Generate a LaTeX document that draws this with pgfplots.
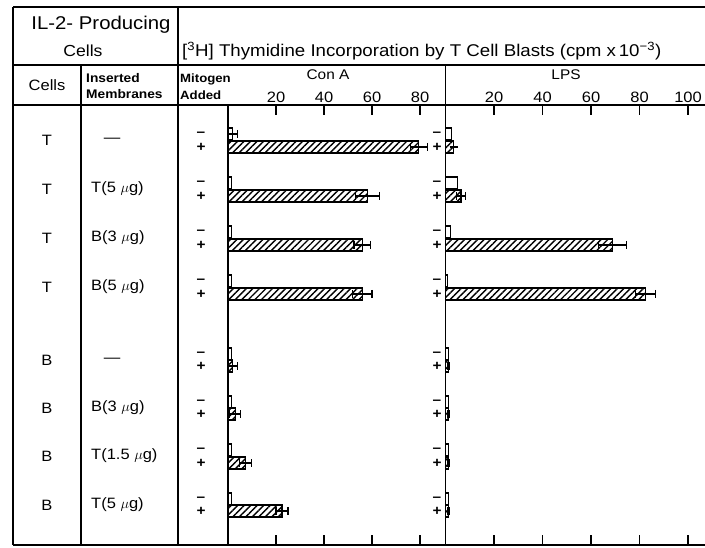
\documentclass[border=0pt]{standalone}
\usepackage{fontspec}
\setmainfont{Liberation Sans}[FakeStretch=1.1]
\usepackage{pgfplots}
\usepackage{pgfplotstable}
\pgfplotsset{compat=1.18}
\usetikzlibrary{patterns.meta}

% y = vertical position of the bar (row), x = value (cpm x 10^-3), e = error
\pgfplotstableread{
y x
-134 2.0
-183 1.4
-232 1.4
-281 1.4
-354 1.4
-402 1.4
-450 1.4
-499 1.4
}\conAminus
\pgfplotstableread{
y x e
-134 2.0 2.0
}\conAminusErr
\pgfplotstableread{
y x e
-147 79.5 3.5
-196 58.0 5.0
-245 56.0 3.5
-294 56.0 4.0
-366 2.0 1.8
-414 3.0 2.3
-463 7.2 2.5
-511 22.5 2.5
}\conAplus
\pgfplotstableread{
y x
-134 2.5
-183 4.8
-232 2.0
-281 1.0
-354 1.2
-402 1.2
-450 1.2
-499 1.2
}\lpsminus
\pgfplotstableread{
y x e
-147 3.4 0
-196 6.4 1.8
-245 68.9 5.7
-294 82.6 4.1
-366 1.2 0.3
-414 1.2 0.3
-463 1.2 0.3
-511 1.2 0.3
}\lpsplus

\pgfplotsset{
  panel/.style={
    scale only axis, height=440pt, ymin=-545, ymax=-105,
    enlargelimits=false, clip=false,
    axis x line=box, axis y line=none, ytick=\empty,
    tick align=inside, major tick length=10pt,
    xticklabel pos=right,
    axis line style={line width=1.2pt},
    every tick/.style={black, line width=1.2pt},
    /pgf/number format/assume math mode=true,
    xticklabel style={font=\fontsize{15}{15}\selectfont, inner sep=2pt},
  },
  minusbar/.style={xbar, bar width=12pt, bar shift=0pt, draw=black, line width=1.1pt, fill=white},
  errs/.style={error bars/.cd, x dir=both, x explicit, error mark=|,
    error bar style={line width=1.1pt, black},
    error mark options={mark size=4pt, line width=1.1pt, black}},
  plusbar/.style={xbar, bar width=12pt, bar shift=0pt, draw=black, line width=1.1pt,
    pattern={Lines[angle=45,distance=4.6pt,line width=1.4pt]}, errs},
}

\begin{document}
\begin{tikzpicture}[x=1pt,y=1pt]
\useasboundingbox (0,0) rectangle (705,-548);

% Con A panel
\begin{axis}[panel, anchor=south west, at={(228pt,-545pt)}, width=217.5pt,
  xmin=0, xmax=90.6, xtick={20,40,60,80}]
  \addplot[minusbar] table[x=x, y=y] {\conAminus};
  \addplot[minusbar, errs] table[x=x, y=y, x error=e] {\conAminusErr};
  \addplot[plusbar] table[x=x, y=y, x error=e] {\conAplus};
\end{axis}

% LPS panel
\begin{axis}[panel, anchor=south west, at={(445.5pt,-545pt)}, width=259.5pt,
  xmin=0, xmax=107, xtick={20,40,60,80,100}]
  \addplot[minusbar] table[x=x, y=y] {\lpsminus};
  \addplot[plusbar] table[x=x, y=y, x error=e] {\lpsplus};
\end{axis}

% table frame
\begin{scope}[line width=1.2pt]
  \draw (13,-7) -- (705,-7);
  \draw (13,-7) -- (13,-545);
  \draw (178,-7) -- (178,-545);
  \draw (13,-65) -- (705,-65);
  \draw (81,-65) -- (81,-545);
  \draw (13,-105) -- (228,-105);
  \draw (13,-545) -- (228,-545);
  \draw (228,-105) -- (228,-545);
  \draw (445.5,-65) -- (445.5,-545);
\end{scope}

% headers
\node[font=\fontsize{18.5}{18.5}\selectfont] at (101,-25) {IL-2- Producing};
\node[font=\fontsize{16}{16}\selectfont] at (83,-51) {Cells};
\node[anchor=west, inner sep=0pt, font=\fontsize{17}{17}\selectfont] at (182,-51)
  {[\textsuperscript{3}H] Thymidine Incorporation by T Cell Blasts (cpm x\,10\textsuperscript{−3})};
\node[font=\fontsize{15}{15}\selectfont] at (47,-85) {Cells};
\node[anchor=west, inner sep=0pt, font=\bfseries\fontsize{12.5}{12.5}\selectfont] at (86,-78) {Inserted};
\node[anchor=west, inner sep=0pt, font=\bfseries\fontsize{12.5}{12.5}\selectfont] at (86,-94) {Membranes};
\node[anchor=west, inner sep=0pt, font=\bfseries\fontsize{12}{12}\selectfont] at (180,-79) {Mitogen};
\node[anchor=west, inner sep=0pt, font=\bfseries\fontsize{12}{12}\selectfont] at (180,-95) {Added};
\node[font=\fontsize{14}{14}\selectfont] at (328,-75) {Con A};
\node[font=\fontsize{14}{14}\selectfont] at (566,-75) {LPS};

% row labels
\foreach \c/\y in {T/140, T/189, T/238, T/287, B/360, B/408, B/456, B/505}
  \node[font=\fontsize{15}{15}\selectfont] at (47,-\y) {\c};
\foreach \y in {140, 360}
  \node[font=\fontsize{15}{15}\selectfont] at (112,-\y) {—};
\foreach \m/\y in {T(5 $\mu$g)/189, B(3 $\mu$g)/238, B(5 $\mu$g)/287,
                   B(3 $\mu$g)/408, T(1.5 $\mu$g)/456, T(5 $\mu$g)/505}
  \node[anchor=west, inner sep=0pt, font=\fontsize{15}{15}\selectfont] at (91,-\y) {\m};

% mitogen signs
\foreach \y in {134,183,232,281,354,402,450,499} {
  \node[font=\bfseries\fontsize{14}{14}\selectfont] at (201,-\y) {–};
  \node[font=\bfseries\fontsize{14}{14}\selectfont] at (437,-\y) {–};
}
\foreach \y in {147,196,245,294,366,414,463,511} {
  \node[font=\bfseries\fontsize{14}{14}\selectfont] at (201,-\y) {+};
  \node[font=\bfseries\fontsize{14}{14}\selectfont] at (437,-\y) {+};
}
\end{tikzpicture}
\end{document}
